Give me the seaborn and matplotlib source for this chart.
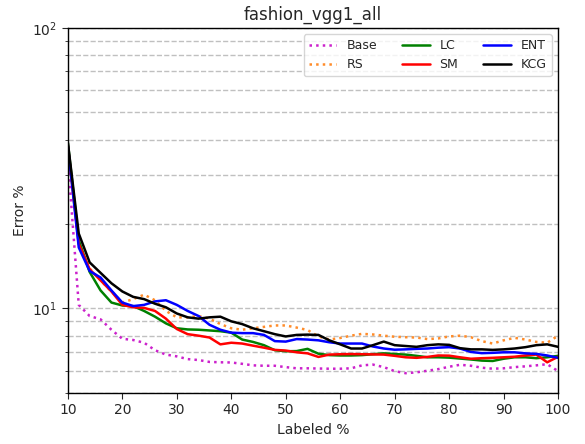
import matplotlib
matplotlib.use("Agg")
import matplotlib.pyplot as plt
import seaborn as sns
import numpy as np
import pandas as pd

labeled = list(range(10, 101, 2))

base = [34, 10.3, 9.4, 9.15, 8.4, 7.8, 7.72, 7.55, 7.1, 6.85,
        6.75, 6.6, 6.55, 6.45, 6.43, 6.42, 6.35, 6.27, 6.25, 6.25,
        6.18, 6.12, 6.12, 6.11, 6.1, 6.1, 6.12, 6.27, 6.31, 6.18,
        5.98, 5.88, 5.92, 6.0, 6.08, 6.2, 6.3, 6.25, 6.15, 6.1,
        6.12, 6.18, 6.22, 6.27, 6.33, 5.98]
rs = [38, 17, 13.9, 12.6, 11.5, 10.5, 10.8, 11.2, 10.7, 9.8,
      9.3, 9.3, 9.4, 9.2, 8.8, 8.5, 8.4, 8.5, 8.6, 8.7,
      8.7, 8.55, 8.38, 7.95, 7.75, 7.85, 8.0, 8.12, 8.08, 8.0,
      7.93, 7.9, 7.88, 7.78, 7.82, 7.95, 8.0, 7.9, 7.65, 7.5,
      7.7, 7.86, 7.75, 7.6, 7.55, 8.0]
lc = [39, 17.5, 13.5, 11.6, 10.5, 10.25, 10.2, 9.8, 9.35, 8.85,
      8.5, 8.42, 8.4, 8.35, 8.3, 8.2, 7.75, 7.6, 7.4, 7.1,
      7.04, 7.05, 7.18, 6.9, 6.82, 6.8, 6.8, 6.82, 6.87, 6.92,
      6.88, 6.85, 6.78, 6.7, 6.7, 6.68, 6.63, 6.58, 6.52, 6.5,
      6.62, 6.7, 6.7, 6.65, 6.7, 6.78]
sm = [38, 17, 13.8, 12.6, 11.5, 10.3, 10.1, 10.05, 9.8, 9.2,
      8.45, 8.1, 8.0, 7.88, 7.45, 7.55, 7.5, 7.37, 7.25, 7.12,
      7.08, 6.98, 6.92, 6.72, 6.85, 6.87, 6.88, 6.87, 6.86, 6.85,
      6.78, 6.7, 6.67, 6.72, 6.8, 6.79, 6.7, 6.62, 6.65, 6.67,
      6.7, 6.73, 6.8, 6.85, 6.43, 6.73]
ent = [38, 16.5, 13.6, 12.9, 11.6, 10.5, 10.2, 10.3, 10.6, 10.7,
       10.3, 9.8, 9.4, 8.75, 8.4, 8.2, 8.17, 8.17, 8.05, 7.65,
       7.62, 7.78, 7.75, 7.7, 7.58, 7.5, 7.5, 7.5, 7.32, 7.2,
       7.13, 7.15, 7.18, 7.2, 7.25, 7.28, 7.2, 7.0, 6.93, 6.95,
       6.98, 6.98, 6.92, 6.89, 6.8, 6.67]
kcg = [39, 18.5, 14.6, 13.4, 12.3, 11.5, 11.0, 10.8, 10.4, 10.1,
       9.6, 9.3, 9.2, 9.3, 9.35, 9.0, 8.8, 8.5, 8.3, 8.1,
       7.95, 8.05, 8.07, 8.05, 7.7, 7.45, 7.2, 7.2, 7.4, 7.62,
       7.4, 7.35, 7.3, 7.4, 7.45, 7.42, 7.22, 7.15, 7.15, 7.12,
       7.15, 7.2, 7.28, 7.4, 7.45, 7.3]

series = {"Base": base, "RS": rs, "LC": lc, "SM": sm, "ENT": ent, "KCG": kcg}
styles = {
    "Base": dict(color="#cc22cc", linestyle=":"),
    "RS": dict(color="#ff8c2a", linestyle=":"),
    "LC": dict(color="green", linestyle="-"),
    "SM": dict(color="red", linestyle="-"),
    "ENT": dict(color="blue", linestyle="-"),
    "KCG": dict(color="black", linestyle="-"),
}

sns.set_style("white")
fig, ax = plt.subplots(figsize=(5.85, 4.44), dpi=100)
fig.subplots_adjust(left=0.116, right=0.954, top=0.937, bottom=0.115)

for name, vals in series.items():
    df = pd.DataFrame({"Labeled %": labeled, "Error %": vals})
    sns.lineplot(data=df, x="Labeled %", y="Error %", ax=ax, label=name,
                 linewidth=1.8, **styles[name])

ax.set_yscale("log")
ax.set_ylim(5, 100)
ax.set_xlim(10, 100)
ax.set_xticks(range(10, 101, 10))
ax.grid(True, which="both", axis="y", linestyle="--", color="#c0c0c0", linewidth=1)
ax.grid(False, axis="x")
ax.tick_params(axis="both", which="both", direction="out", left=True, bottom=True)
ax.tick_params(axis="both", which="major", length=4, labelsize=10)
ax.tick_params(axis="y", which="minor", length=2.5)
for s in ax.spines.values():
    s.set_color("black")
    s.set_linewidth(1)
ax.set_xlabel("Labeled %", fontsize=10)
ax.set_ylabel("Error %", fontsize=10)
ax.set_title("fashion_vgg1_all", fontsize=12)
ax.legend(loc="upper right", ncol=3, fontsize=9, frameon=True,
          columnspacing=2.0, handlelength=2.2, handletextpad=0.8)

fig.savefig("out.png", dpi=100)
